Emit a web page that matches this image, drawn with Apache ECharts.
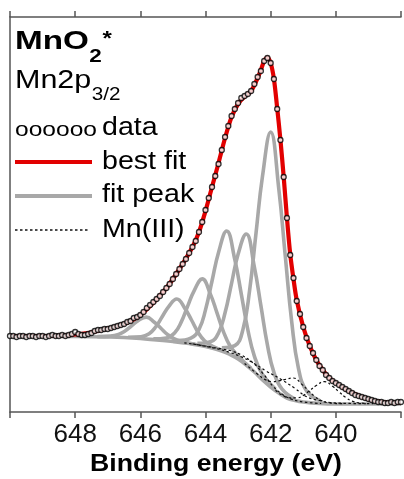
<!DOCTYPE html>
<html><head><meta charset="utf-8">
<script src="https://cdn.jsdelivr.net/npm/echarts@6/dist/echarts.min.js"></script>
<style>html,body{margin:0;padding:0;background:#fff}#c{width:404px;height:479px}</style>
</head><body><div id="c"></div>
<script>
// ---------- data (binding energy in eV, intensity in arbitrary counts) ----------
const energy = [
650.0,649.9,649.8,649.7,649.6,649.5,649.4,649.3,649.2,649.1,
649.0,648.9,648.8,648.7,648.6,648.5,648.4,648.3,648.2,648.1,
648.0,647.9,647.8,647.7,647.6,647.5,647.4,647.3,647.2,647.1,
647.0,646.9,646.8,646.7,646.6,646.5,646.4,646.3,646.2,646.1,
646.0,645.9,645.8,645.7,645.6,645.5,645.4,645.3,645.2,645.1,
645.0,644.9,644.8,644.7,644.6,644.5,644.4,644.3,644.2,644.1,
644.0,643.9,643.8,643.7,643.6,643.5,643.4,643.3,643.2,643.1,
643.0,642.9,642.8,642.7,642.6,642.5,642.4,642.3,642.2,642.1,
642.0,641.9,641.8,641.7,641.6,641.5,641.4,641.3,641.2,641.1,
641.0,640.9,640.8,640.7,640.6,640.5,640.4,640.3,640.2,640.1,
640.0,639.9,639.8,639.7,639.6,639.5,639.4,639.3,639.2,639.1,
639.0,638.9,638.8,638.7,638.6,638.5,638.4,638.3,638.2,638.1,
638.0];
const counts = [
76,76,75,76,76,75,76,76,75,76,
76,75,76,77,76,76,77,76,77,78,
80,78,77,77,78,79,81,82,82,83,
83,84,85,86,87,88,90,91,94,95,
97,100,104,107,110,113,116,120,124,128,
133,138,143,148,153,159,165,171,180,190,
202,214,225,236,248,262,275,286,296,303,
309,314,316,318,321,328,335,341,351,354,
349,333,303,272,235,194,157,134,111,98,
85,74,66,59,52,46,42,37,34,31,
29,27,25,23,21,19,17,16,15,14,
13,12,11,10,10,9,9,10,9,10,
10];

const fitBE = [650.0,649.0,648.4,648.0,647.6,647.2,646.8,646.4,646.0,645.6,645.2,644.8,644.4,644.2,644.0,643.8,643.6,643.4,643.2,643.0,642.8,642.6,642.4,642.3,642.2,642.1,642.0,641.9,641.8,641.7,641.6,641.5,641.4,641.3,641.2,641.0,640.8,640.6,640.4,640.2,640.0,639.6,639.2,638.8,638.4,638.0];
const fitI  = [76,76,76.5,77.5,79,82,85,89.5,97,109.5,124,143,165,180,201,225,249,274,295,308,315.5,321,334,342,351,354.5,349,333,304,272,235,194,158,133,112,85,66,52,42,34,29,21,15,11,9.5,9.5];

const bgBE = [650,649,648,647,646.5,646,645.5,645,644.5,644.25,644,643.75,643.5,643.25,643,642.75,642.5,642.25,642,641.75,641.5,641.25,641,640.5,640,638];
const bgI  = [76,76,75.5,75,74.5,73.5,72,70.5,68.5,67,65.5,63.5,61,57.5,53,47,40,32,25,19,14,11.5,10,8.5,8,8];

const p1BE = [647.32,646.92,646.67,646.47,646.27,646.07,645.82,645.57,645.37,645.17,644.97,644.72,644.32];
const p1I  = [75.4,75.9,77.6,81.0,86.1,91.3,94.9,89.8,83.7,77.6,73.3,70.4,67.8];
const p2BE = [646.38,645.98,645.73,645.53,645.33,645.13,644.88,644.63,644.43,644.23,644.03,643.78,643.38];
const p2I  = [74.8,75.3,78.3,85.0,95.2,105.4,113.0,103.4,92.0,79.8,71.3,65.6,60.3];
const p3BE = [645.60,645.20,644.95,644.75,644.55,644.35,644.10,643.85,643.65,643.45,643.25,643.00,642.60];
const p3I  = [73.1,74.1,79.0,89.6,105.6,121.2,133.1,117.9,99.4,80.4,66.2,56.0,43.6];
const p4BE = [644.85,644.45,644.20,644.00,643.80,643.60,643.35,643.10,642.90,642.70,642.50,642.25,641.85];
const p4I  = [71.4,73.8,82.6,102.1,131.0,159.6,181.0,152.4,117.7,82.2,55.9,37.5,22.9];
const p5BE = [644.25,643.85,643.60,643.40,643.20,643.00,642.75,642.50,642.30,642.10,641.90,641.65,641.25];
const p5I  = [68.6,70.2,79.0,99.2,128.7,157.8,178.0,144.8,106.4,67.1,39.6,22.9,12.9];
const p6BE = [643.50,643.10,642.85,642.65,642.45,642.25,642.00,641.75,641.55,641.35,641.15,640.90,640.50];
const p6I  = [64.1,66.3,82.6,120.7,178.7,236.0,280.0,223.0,155.3,89.0,44.2,21.2,11.6];

const m1BE = [642.80,642.40,642.15,641.95,641.75,641.55,641.30,641.05,640.85,640.65,640.45,640.20,639.80];
const m1I  = [48.5,37.8,32.1,30.4,31.1,32.6,34.0,27.9,21.7,15.6,11.4,9.1,8.3];
const m2BE = [641.85,641.45,641.20,641.00,640.80,640.60,640.35,640.10,639.90,639.70,639.50,639.25,638.85];
const m2I  = [21.7,14.4,14.1,16.6,21.5,26.4,30.4,25.7,20.1,14.6,10.9,9.0,8.3];
const m3BE = [644.40,643.68,643.23,642.87,642.51,642.15,641.70,641.25,640.89,640.53,640.17,639.72,639.00];
const m3I  = [68.2,63.5,59.3,54.7,48.6,41.2,33.0,23.5,15.2,11.6,9.5,8.7,8.2];
const m4BE = [644.65,644.09,643.74,643.46,643.18,642.90,642.55,642.20,641.92,641.64,641.36,641.01,640.45];
const m4I  = [69.2,66.4,64.4,62.8,60.8,57.0,49.4,37.0,25.5,17.6,12.9,10.1,8.5];

const xTicks = [640, 642, 644, 646, 648];

// ---------- build ----------
const zip = (a, b) => a.map((v, i) => [v, b[i]]);
const FONT = '"Liberation Sans", Arial, sans-serif';
const GRAY = '#a8a8a8', RED = '#e20000', AX = '#555';

function grayLine(name, be, iv) {
  return { name, type: 'line', data: zip(be, iv), smooth: 0.45, showSymbol: false, z: 2,
    lineStyle: { color: GRAY, width: 3.6 }, silent: true };
}
function dotLine(name, be, iv) {
  return { name, type: 'line', data: zip(be, iv), smooth: 0.45, showSymbol: false, z: 3,
    lineStyle: { color: '#111', width: 1.2, type: [2.5, 2.5] }, silent: true };
}

const series = [
  grayLine('background', bgBE, bgI),
  grayLine('peak1', p1BE, p1I), grayLine('peak2', p2BE, p2I), grayLine('peak3', p3BE, p3I),
  grayLine('peak4', p4BE, p4I), grayLine('peak5', p5BE, p5I), grayLine('peak6', p6BE, p6I),
  dotLine('MnIII-1', m1BE, m1I), dotLine('MnIII-2', m2BE, m2I),
  dotLine('MnIII-3', m3BE, m3I), dotLine('MnIII-4', m4BE, m4I),
  { name: 'best fit', type: 'line', data: zip(fitBE, fitI), smooth: 0.3, showSymbol: false, z: 4,
    lineStyle: { color: RED, width: 4.2 } },
  { name: 'data', type: 'scatter', data: zip(energy, counts), symbol: 'circle', symbolSize: 5, z: 5,
    itemStyle: { color: '#fff', borderColor: '#000', borderWidth: 1.3 } }
];

// text helpers (position by baseline)
const mctx = document.createElement('canvas').getContext('2d');
function tw(t, font) { mctx.font = font; return mctx.measureText(t).width; }
function txt(t, x, base, size, bold, sx, align) {
  const f = (bold ? 'bold ' : '') + size + 'px ' + FONT;
  return { type: 'text', x, y: base - 0.3465 * size, scaleX: sx || 1, z: 10, silent: true,
    style: { text: t, x: 0, y: 0, font: f, fill: '#000', textAlign: align || 'left', textVerticalAlign: 'middle' } };
}
const g = [];
// title MnO2*
const tX = 15, tS = 1.33;
const fMnO = 'bold 25px ' + FONT;
g.push(txt('MnO', tX, 51, 25, true, tS));
const x2 = tX + tw('MnO', fMnO) * tS + 0.5;
g.push(txt('2', x2, 63, 18, true, 1.25));
const xs = x2 + tw('2', 'bold 18px ' + FONT) * 1.25 + 0.5;
g.push(txt('*', xs, 46, 20, true, 1.2));
// Mn2p3/2
const mS = 1.22;
g.push(txt('Mn2p', tX, 89.5, 25, false, mS));
const x32 = tX + tw('Mn2p', '25px ' + FONT) * mS + 0.5;
g.push(txt('3/2', x32, 101, 18, false, 1.15));
// legend rows
const lx1 = 15, lx2 = 92, tx = 102, ls = 1.1;
g.push(txt('oooooo', lx1, 137, 21, false, 1.17));
g.push(txt('data', tx, 137, 26, false, ls));
g.push({ type: 'line', z: 10, silent: true, shape: { x1: lx1, y1: 162, x2: lx2, y2: 162 }, style: { stroke: RED, lineWidth: 4.2 } });
g.push(txt('best fit', tx, 170.5, 26, false, ls));
g.push({ type: 'line', z: 10, silent: true, shape: { x1: lx1, y1: 196, x2: lx2, y2: 196 }, style: { stroke: GRAY, lineWidth: 4 } });
g.push(txt('fit peak', tx, 204, 26, false, ls));
g.push({ type: 'line', z: 10, silent: true, shape: { x1: lx1, y1: 230, x2: 89, y2: 230 }, style: { stroke: '#111', lineWidth: 1.4, lineDash: [2.5, 2.5] } });
g.push(txt('Mn(III)', tx, 239, 26, false, ls));
// axis title
g.push(txt('Binding energy (eV)', 216, 473, 23, true, 1.16, 'center'));

const axisCommon = {
  type: 'value', min: 638, max: 650, interval: 2, inverse: true,
  axisLine: { show: true, lineStyle: { color: AX, width: 1.5 } },
  axisTick: { show: true, inside: false, length: 6, lineStyle: { color: AX, width: 1.5 } },
  splitLine: { show: false }
};

const option = {
  animation: false,
  backgroundColor: '#fff',
  grid: { left: 10, right: 0, top: 17, bottom: 67, containLabel: false },
  xAxis: [
    Object.assign({}, axisCommon, { position: 'bottom',
      axisLabel: { show: true, margin: 10, fontSize: 26, color: '#111', fontFamily: FONT,
        formatter: v => xTicks.includes(v) ? String(v) : '' } }),
    Object.assign({}, axisCommon, { position: 'top', axisLabel: { show: false } })
  ],
  yAxis: { type: 'value', min: 0, max: 395, axisLine: { show: true, lineStyle: { color: AX, width: 1.5 } },
    axisTick: { show: false }, axisLabel: { show: false }, splitLine: { show: false } },
  series,
  graphic: g
};
const chart = echarts.init(document.getElementById('c'), null, { renderer: 'canvas' });
chart.setOption(option);
</script>
</body></html>
